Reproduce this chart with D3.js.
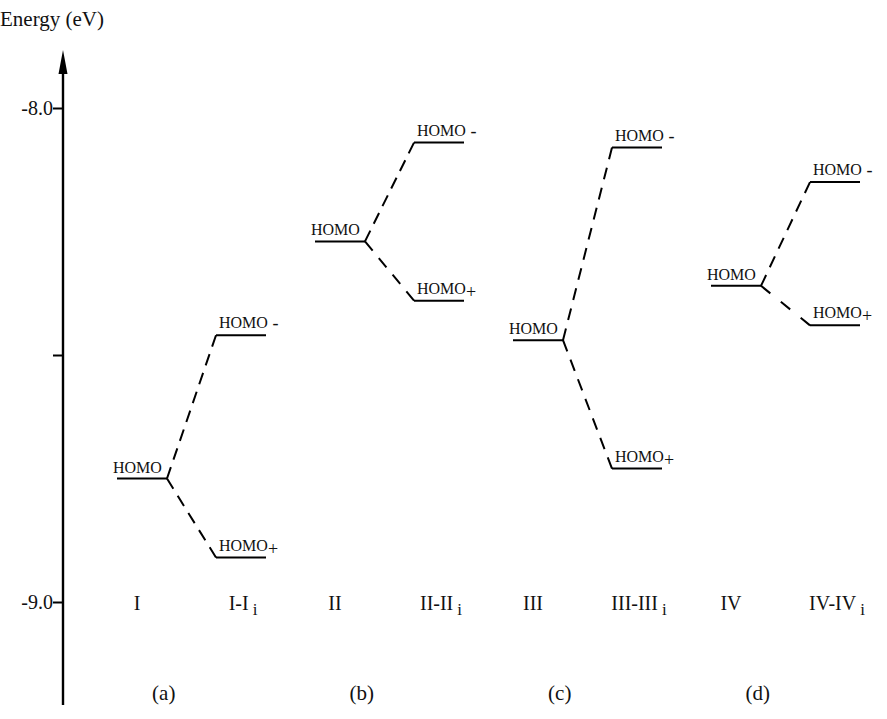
<!DOCTYPE html>
<html lang="en">
<head>
  <meta charset="UTF-8">
  <title>HOMO splitting energy diagram</title>
  <script src="https://d3js.org/d3.v7.min.js"></script>
  <style>
    body
    {
      margin: 0;
      background-color: #ffffff;
    }

    svg
    {
      font-family: "Liberation Serif", "Times New Roman", serif;
      display: block;
    }

    svg text
    {
      font-family: "Liberation Serif", "Times New Roman", serif;
      fill: #111;
    }
  </style>
</head>
<body>
  <svg width="887" height="719"></svg>
  <script>
    const width = 887;
    const height = 719;

    // data (eV)
    const groups = ["(a)", "(b)", "(c)", "(d)"];
    const monomers = ["I", "II", "III", "IV"];
    const dimers = ["I-I", "II-II", "III-III", "IV-IV"];
    const homo = [-8.75, -8.27, -8.47, -8.36];
    const homoMinus = [-8.46, -8.07, -8.08, -8.15];
    const homoPlus = [-8.91, -8.39, -8.73, -8.44];
    const yTicks = [-8.0, -8.5, -9.0];
    const yTickLabels = ["-8.0", "", "-9.0"];

    const svg = d3.select("svg");

    const columns = [];
    monomers.forEach((m, i) => columns.push(m, dimers[i]));

    const x = d3.scalePoint()
      .domain(columns)
      .range([142, 835]);

    const y = d3.scaleLinear()
      .domain([-8.0, -9.0])
      .range([108, 602]);

    const halfLevel = 25;
    const axisX = 63;

    //axis
    svg.append("line")
      .attr("x1", axisX).attr("x2", axisX)
      .attr("y1", 66).attr("y2", 705)
      .attr("stroke", "#000")
      .attr("stroke-width", 2.4);

    svg.append("path")
      .attr("d", `M${axisX},50 L${axisX - 4.5},74 L${axisX + 4.5},74 Z`)
      .attr("fill", "#000");

    const yAxis = d3.axisLeft(y)
      .tickValues(yTicks)
      .tickSize(10)
      .tickFormat((d, i) => yTickLabels[i]);

    const gAxis = svg.append("g")
      .attr("transform", `translate(${axisX},0)`)
      .call(yAxis);

    gAxis.attr("font-family", null).attr("font-size", null);
    gAxis.select(".domain").remove();
    gAxis.selectAll(".tick line")
      .attr("stroke", "#000")
      .attr("stroke-width", 2);
    gAxis.selectAll(".tick text")
      .attr("x", -10)
      .attr("dy", "0.34em")
      .style("font-size", "20px");

    svg.append("text")
      .attr("x", 0)
      .attr("y", 26)
      .style("font-size", "21px")
      .text("Energy (eV)");

    // dashed connector that starts and ends on a dash
    function dashFor(len)
    {
      const dash = 12;
      const gap0 = 9;
      const n = Math.max(2, Math.round((len + gap0) / (dash + gap0)));
      const gap = (len - n * dash) / (n - 1);
      return `${dash},${gap}`;
    }

    groups.forEach((g, i) => {
      const xm = x(monomers[i]);
      const xd = x(dimers[i]);
      const ym = y(homo[i]);

      // monomer level
      svg.append("line")
        .attr("x1", xm - halfLevel).attr("x2", xm + halfLevel)
        .attr("y1", ym).attr("y2", ym)
        .attr("stroke", "#000")
        .attr("stroke-width", 2);

      svg.append("text")
        .attr("x", xm - halfLevel - 4)
        .attr("y", ym - 6)
        .style("font-size", "16px")
        .text("HOMO");

      const split = [
        { e: homoMinus[i], sign: " -", dy: 1 },
        { e: homoPlus[i], sign: "+", dy: 4 }
      ];

      split.forEach(s => {
        const yd = y(s.e);
        const x0 = xm + halfLevel;
        const x1 = xd - halfLevel;
        const len = Math.hypot(x1 - x0, yd - ym);

        svg.append("line")
          .attr("x1", x0).attr("y1", ym)
          .attr("x2", x1).attr("y2", yd)
          .attr("stroke", "#000")
          .attr("stroke-width", 2)
          .attr("stroke-dasharray", dashFor(len));

        svg.append("line")
          .attr("x1", xd - halfLevel).attr("x2", xd + halfLevel)
          .attr("y1", yd).attr("y2", yd)
          .attr("stroke", "#000")
          .attr("stroke-width", 2);

        const t = svg.append("text")
          .attr("x", xd - halfLevel + 3)
          .attr("y", yd - 7)
          .style("font-size", "16px")
          .text("HOMO");
        t.append("tspan")
          .attr("dy", s.dy)
          .style("font-size", "18px")
          .text(s.sign);
      });

      // column labels
      svg.append("text")
        .attr("x", xm - 5)
        .attr("y", 610)
        .attr("text-anchor", "middle")
        .style("font-size", "20px")
        .text(monomers[i]);

      const dl = svg.append("text")
        .attr("x", xd + 2)
        .attr("y", 610)
        .attr("text-anchor", "middle")
        .style("font-size", "20px")
        .text(dimers[i]);
      dl.append("tspan")
        .attr("dx", 4)
        .attr("dy", 5)
        .style("font-size", "17px")
        .text("i");

      // group label
      svg.append("text")
        .attr("x", xm + (xd - xm) * 0.22)
        .attr("y", 700)
        .attr("text-anchor", "middle")
        .style("font-size", "21px")
        .text(g);
    });
  </script>
</body>
</html>
